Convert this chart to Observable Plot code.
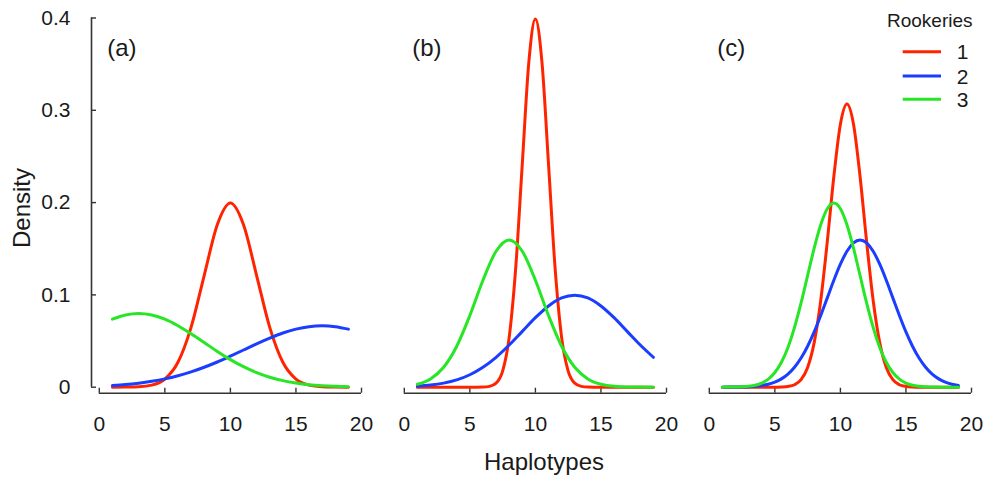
<!DOCTYPE html>
<html><head><meta charset="utf-8">
<script src="https://cdn.jsdelivr.net/npm/d3@7"></script>
<script src="https://cdn.jsdelivr.net/npm/@observablehq/plot@0.6"></script>
<style>body{margin:0;background:#fff} #chart{width:987px;height:478px} svg{display:block}</style>
</head><body><div id="chart"></div>
<script>
const panels = ["a", "b", "c"];
const panelLabels = ["(a)", "(b)", "(c)"];
const rookeries = ["1", "2", "3"];
const colors = ["#ff2400", "#1a3dff", "#26e626"];
const xTicks = [0, 5, 10, 15, 20];
const yTicks = [0, 0.1, 0.2, 0.3, 0.4];
const xLabel = "Haplotypes";
const yLabel = "Density";
const legendTitle = "Rookeries";

const xCoarse = [1,2,3,4,5,6,7,8,9,10,11,12,13,14,15,16,17,18,19];
const xFine = [1,1.5,2,2.5,3,3.5,4,4.5,5,5.5,6,6.5,7,7.5,8,8.5,9,9.5,10,10.5,11,11.5,12,12.5,13,13.5,14,14.5,15,15.5,16,16.5,17,17.5,18,18.5,19];

// panel (a)
const aRed   = [0.0000,0.0001,0.0004,0.0022,0.0088,0.0270,0.0648,0.1210,0.1760,0.1995,0.1760,0.1210,0.0648,0.0270,0.0088,0.0022,0.0004,0.0001,0.0000];
const aBlue  = [0.0019,0.0029,0.0044,0.0064,0.0090,0.0124,0.0166,0.0216,0.0273,0.0337,0.0403,0.0470,0.0532,0.0587,0.0629,0.0656,0.0665,0.0656,0.0629];
const aGreen = [0.0737,0.0782,0.0798,0.0782,0.0737,0.0666,0.0579,0.0484,0.0388,0.0299,0.0222,0.0158,0.0108,0.0071,0.0045,0.0027,0.0016,0.0009,0.0005];
// panel (b)
const bRed   = [0,0,0,0,0,0,0,0,0,0,0.0001,0.0009,0.0044,0.0175,0.0540,0.1295,0.2420,0.3521,0.3989,0.3521,0.2420,0.1295,0.0540,0.0175,0.0044,0.0009,0.0001,0,0,0,0,0,0,0,0,0,0];
const bBlue  = [0.0011,0.0023,0.0044,0.0079,0.0135,0.0216,0.0324,0.0457,0.0605,0.0753,0.0880,0.0967,0.0997,0.0967,0.0880,0.0753,0.0605,0.0457,0.0324];
const bGreen = [0.0032,0.0090,0.0216,0.0444,0.0777,0.1159,0.1473,0.1596,0.1473,0.1159,0.0777,0.0444,0.0216,0.0090,0.0032,0.0010,0.0002,0.0001,0.0000];
// panel (c)
const cRed   = [0,0,0,0,0,0,0,0,0,0.0002,0.0008,0.0027,0.0082,0.0214,0.0483,0.0940,0.1577,0.2283,0.2850,0.3069,0.2850,0.2283,0.1577,0.0940,0.0483,0.0214,0.0082,0.0027,0.0008,0.0002,0,0,0,0,0,0,0];
const cBlue  = [0,0.0001,0.0001,0.0002,0.0005,0.0010,0.0018,0.0032,0.0054,0.0090,0.0142,0.0216,0.0316,0.0444,0.0599,0.0777,0.0968,0.1159,0.1333,0.1473,0.1564,0.1596,0.1564,0.1473,0.1333,0.1159,0.0968,0.0777,0.0599,0.0444,0.0316,0.0216,0.0142,0.0090,0.0054,0.0032,0.0018];
const cGreen = [0,0.0001,0.0002,0.0004,0.0010,0.0022,0.0045,0.0088,0.0159,0.0270,0.0431,0.0648,0.0913,0.1210,0.1506,0.1760,0.1933,0.1995,0.1933,0.1760,0.1506,0.1210,0.0913,0.0648,0.0431,0.0270,0.0159,0.0088,0.0045,0.0022,0.0010,0.0004,0.0002,0.0001,0,0,0];

const series = [
  {panel: "a", rookery: "1", xs: xCoarse, ys: aRed},
  {panel: "a", rookery: "2", xs: xCoarse, ys: aBlue},
  {panel: "a", rookery: "3", xs: xCoarse, ys: aGreen},
  {panel: "b", rookery: "1", xs: xFine, ys: bRed},
  {panel: "b", rookery: "2", xs: xCoarse, ys: bBlue},
  {panel: "b", rookery: "3", xs: xCoarse, ys: bGreen},
  {panel: "c", rookery: "1", xs: xFine, ys: cRed},
  {panel: "c", rookery: "2", xs: xFine, ys: cBlue},
  {panel: "c", rookery: "3", xs: xFine, ys: cGreen}
];
const rows = series.flatMap(s => s.ys.map((y, i) => ({panel: s.panel, rookery: s.rookery, x: s.xs[i], y})));
const labelRows = panels.map((p, i) => ({panel: p, label: panelLabels[i]}));

const font = "'Liberation Sans', Arial, Helvetica, sans-serif";
const axisColor = "#333";

const plot = Plot.plot({
  width: 987,
  height: 478,
  marginLeft: 91,
  marginRight: 15.3,
  marginTop: 17.5,
  marginBottom: 85.3,
  style: {fontFamily: font, color: "#1a1a1a", background: "#fff", overflow: "visible"},
  fx: {domain: panels, padding: 0.1138, axis: null, label: null},
  x: {domain: [0, 20], insetLeft: 7.8, label: null},
  y: {domain: [0, 0.4], insetBottom: 6, label: null},
  color: {domain: rookeries, range: colors},
  marks: [
    Plot.ruleX([{panel: "a"}], {fx: "panel", x: () => 0, y1: () => 0, y2: () => 0.4, dx: -7.8, stroke: axisColor, strokeWidth: 1.6}),
    Plot.ruleY([0], {x1: () => 0, x2: () => 20, y: d => d, dy: 6, stroke: axisColor, strokeWidth: 1.6}),
    Plot.axisY({ticks: yTicks, tickSize: -5, tickPadding: 26, tickFormat: d => String(d), fontSize: 21, stroke: axisColor, strokeWidth: 1.4, label: null}),
    Plot.axisX({ticks: xTicks, tickSize: -5, tickPadding: 28.3, tickFormat: d => String(d), fontSize: 21, stroke: axisColor, strokeWidth: 1.4, label: null}),
    Plot.line(rows, {fx: "panel", x: "x", y: "y", z: "rookery", stroke: "rookery", strokeWidth: 3, curve: "monotone-x"}),
    Plot.text(labelRows, {fx: "panel", text: "label", frameAnchor: "top-left", textAnchor: "start", lineAnchor: "middle", dx: 15.7, dy: 30.5, fontSize: 24})
  ]
});

const svg = d3.select(plot);
svg.append("text").attr("x", 544).attr("y", 470).attr("text-anchor", "middle")
  .attr("font-size", 24).attr("font-family", font).attr("fill", "#1a1a1a").text(xLabel);
svg.append("text").attr("transform", "translate(30,208) rotate(-90)").attr("text-anchor", "middle")
  .attr("font-size", 24).attr("font-family", font).attr("fill", "#1a1a1a").text(yLabel);

const legend = svg.append("g").attr("font-family", font).attr("fill", "#1a1a1a");
legend.append("text").attr("x", 887).attr("y", 27.3).attr("text-anchor", "start").attr("font-size", 19).text(legendTitle);
const colorScale = plot.scale("color");
const legendY = [51.7, 76, 99.3];
rookeries.forEach((r, i) => {
  legend.append("line").attr("x1", 902.7).attr("x2", 941).attr("y1", legendY[i]).attr("y2", legendY[i])
    .attr("stroke", colorScale.apply(r)).attr("stroke-width", 3);
  legend.append("text").attr("x", 962.5).attr("y", legendY[i]).attr("dy", "0.36em")
    .attr("text-anchor", "middle").attr("font-size", 21).text(r);
});

document.getElementById("chart").appendChild(plot);
</script>
</body></html>
